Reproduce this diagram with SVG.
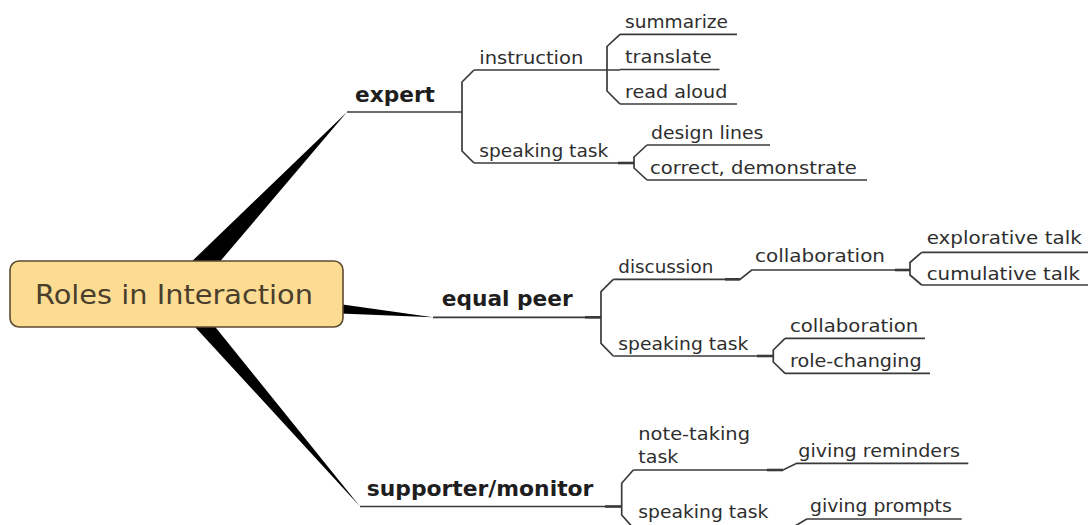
<svg xmlns="http://www.w3.org/2000/svg" width="1092" height="525" viewBox="0 0 1092 525">
<style>
  .bg { fill: #ffffff; }
  .t { font-family: "DejaVu Sans", Verdana, sans-serif; font-size: 18.5px; fill: #2e2e2e; }
  .m { font-family: "DejaVu Sans", Verdana, sans-serif; font-size: 22px; font-weight: bold; fill: #1e1e1e; }
  .title { font-family: "DejaVu Sans", Verdana, sans-serif; font-size: 26px; fill: #4a3e2c; }
  .ln { fill: none; stroke: #3a3a3a; stroke-width: 1.7; }
  .thk { fill: none; stroke: #3a3a3a; stroke-width: 2.6; }
  .wedge { fill: #000000; }
  .box { fill: #fcdc92; stroke: #5b4b32; stroke-width: 1.6; }
</style>
<rect class="bg" x="0" y="0" width="1092" height="525"/>

<g id="connectors">
  <!-- main wedges -->
  <polygon class="wedge" points="166.9,285.4 185.1,302.6 347,112"/>
  <polygon class="wedge" points="174.8,306.9 177.2,281.1 433,317.3"/>
  <polygon class="wedge" points="183.8,288.1 170.2,299.9 360,506.5"/>

  <!-- expert -->
  <path class="ln" d="M347,112 H462"/>
  <path class="ln" d="M474,70 L462,82 V151 L474,163"/>
  <path class="ln" d="M474,70 H620"/>
  <path class="ln" d="M620,34.3 L607,46.5 V91 L620,104"/>
  <path class="ln" d="M620,34.3 H737"/>
  <path class="ln" d="M620,69.5 H719.5"/>
  <path class="ln" d="M620,104 H737"/>
  <path class="ln" d="M474,163 H634"/>
  <path class="thk" d="M618,163 H634"/>
  <path class="ln" d="M647,145 L634,157 V168 L647,180"/>
  <path class="ln" d="M647,145 H770"/>
  <path class="ln" d="M647,180 H867"/>

  <!-- equal peer -->
  <path class="ln" d="M433,317.3 H601"/>
  <path class="thk" d="M585,317.3 H601"/>
  <path class="ln" d="M613.3,279.3 L601,291.7 V343.3 L613.3,356"/>
  <path class="ln" d="M613.3,279.3 H740 L751.7,270 H910"/>
  <path class="thk" d="M725,279.3 H740"/>
  <path class="thk" d="M895,270 H910"/>
  <path class="ln" d="M921.7,252.3 L910,262.5 V275 L921.7,285"/>
  <path class="ln" d="M921.7,252.3 H1088"/>
  <path class="ln" d="M921.7,285 H1088"/>
  <path class="ln" d="M613.3,356 H773.3"/>
  <path class="thk" d="M757,356 H773.3"/>
  <path class="ln" d="M785,338.3 L773.3,350 V362 L785,373.3"/>
  <path class="ln" d="M785,338.3 H925"/>
  <path class="ln" d="M785,373.3 H930"/>

  <!-- supporter/monitor -->
  <path class="ln" d="M360,506.5 H621.7"/>
  <path class="thk" d="M605,506.5 H621.7"/>
  <path class="ln" d="M633.3,470 L621.7,483.3 V515 L633.3,528"/>
  <path class="ln" d="M633.3,470 H783 L796.7,463.3 H968.3"/>
  <path class="thk" d="M767,470 H783"/>
  <path class="ln" d="M633.3,528 H791.7 L806.7,519 H961.7"/>
  <path class="thk" d="M776,528 H791.7"/>
</g>

<g id="root">
  <rect class="box" x="10" y="261" width="333" height="66" rx="9" ry="9"/>
  <text class="title" x="35" y="304" textLength="278" lengthAdjust="spacingAndGlyphs">Roles in Interaction</text>
</g>

<g id="expert">
  <text class="m" x="355" y="102" textLength="80" lengthAdjust="spacingAndGlyphs">expert</text>
</g>
<g id="instruction">
  <text class="t" x="479.3" y="64" textLength="104" lengthAdjust="spacingAndGlyphs">instruction</text>
</g>
<g id="summarize">
  <text class="t" x="625" y="27.5" textLength="103" lengthAdjust="spacingAndGlyphs">summarize</text>
</g>
<g id="translate">
  <text class="t" x="625" y="63" textLength="86.7" lengthAdjust="spacingAndGlyphs">translate</text>
</g>
<g id="read-aloud">
  <text class="t" x="625" y="97.5" textLength="102.3" lengthAdjust="spacingAndGlyphs">read aloud</text>
</g>
<g id="expert-speaking-task">
  <text class="t" x="479.3" y="156.5" textLength="129" lengthAdjust="spacingAndGlyphs">speaking task</text>
</g>
<g id="design-lines">
  <text class="t" x="651" y="139" textLength="112.3" lengthAdjust="spacingAndGlyphs">design lines</text>
</g>
<g id="correct-demonstrate">
  <text class="t" x="650" y="173.5" textLength="206.7" lengthAdjust="spacingAndGlyphs">correct, demonstrate</text>
</g>

<g id="equal-peer">
  <text class="m" x="441.7" y="306" textLength="131" lengthAdjust="spacingAndGlyphs">equal peer</text>
</g>
<g id="discussion">
  <text class="t" x="618.3" y="273.3" textLength="95" lengthAdjust="spacingAndGlyphs">discussion</text>
</g>
<g id="discussion-collaboration">
  <text class="t" x="755" y="261.7" textLength="130" lengthAdjust="spacingAndGlyphs">collaboration</text>
</g>
<g id="explorative-talk">
  <text class="t" x="926.7" y="244" textLength="155" lengthAdjust="spacingAndGlyphs">explorative talk</text>
</g>
<g id="cumulative-talk">
  <text class="t" x="926.7" y="280" textLength="153.3" lengthAdjust="spacingAndGlyphs">cumulative talk</text>
</g>
<g id="peer-speaking-task">
  <text class="t" x="618.3" y="350" textLength="130" lengthAdjust="spacingAndGlyphs">speaking task</text>
</g>
<g id="task-collaboration">
  <text class="t" x="790" y="331.7" textLength="128.3" lengthAdjust="spacingAndGlyphs">collaboration</text>
</g>
<g id="role-changing">
  <text class="t" x="790" y="366.7" textLength="131.7" lengthAdjust="spacingAndGlyphs">role-changing</text>
</g>

<g id="supporter-monitor">
  <text class="m" x="366.7" y="496" textLength="226.7" lengthAdjust="spacingAndGlyphs">supporter/monitor</text>
</g>
<g id="note-taking-task">
  <text class="t" x="638.3" y="440" textLength="111.7" lengthAdjust="spacingAndGlyphs">note-taking</text>
  <text class="t" x="638.3" y="463.3" textLength="40" lengthAdjust="spacingAndGlyphs">task</text>
</g>
<g id="giving-reminders">
  <text class="t" x="798.3" y="456.7" textLength="161.7" lengthAdjust="spacingAndGlyphs">giving reminders</text>
</g>
<g id="supporter-speaking-task">
  <text class="t" x="638.3" y="518.3" textLength="130" lengthAdjust="spacingAndGlyphs">speaking task</text>
</g>
<g id="giving-prompts">
  <text class="t" x="810" y="511.7" textLength="141.7" lengthAdjust="spacingAndGlyphs">giving prompts</text>
</g>
</svg>
